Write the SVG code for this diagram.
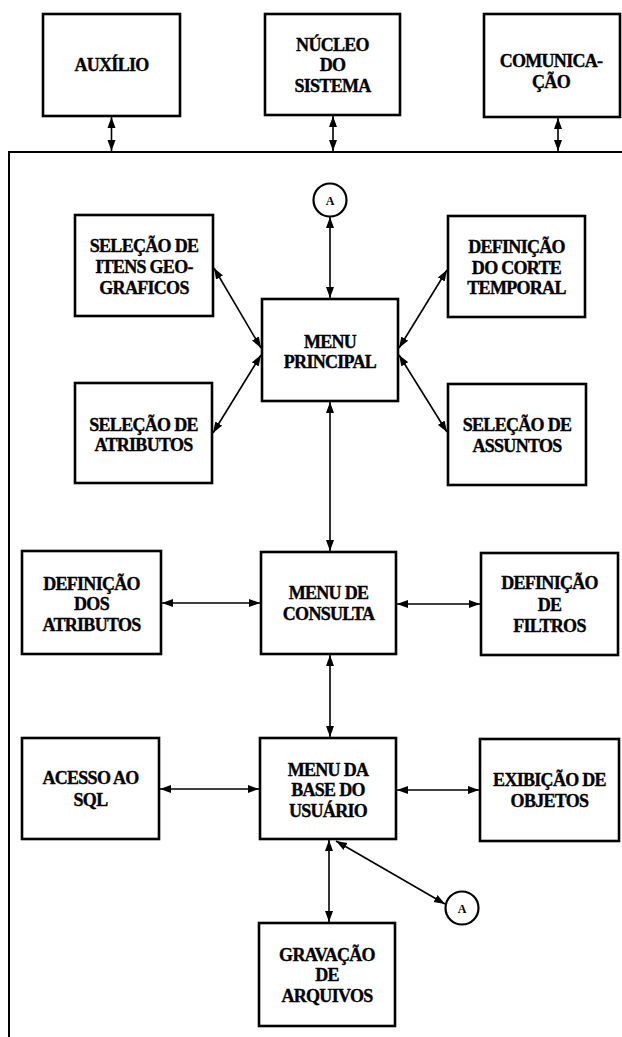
<svg xmlns="http://www.w3.org/2000/svg" width="622" height="1037" viewBox="0 0 622 1037">
  <style>
    .box { fill: #ffffff; stroke: #000000; stroke-width: 2.6; }
    .circ { fill: #ffffff; stroke: #000000; stroke-width: 2.2; }
    text { font-family: 'Liberation Serif', 'DejaVu Serif', serif; font-weight: 700; fill: #000000; text-anchor: middle; }
    .t { font-size: 18px; letter-spacing: -0.7px; stroke: #000000; stroke-width: 0.35; }
    .ts { font-size: 12px; }
    .conn line { stroke: #000000; stroke-width: 1.6; fill: none; marker-start: url(#head); marker-end: url(#head); }
    .frame { stroke: #000000; stroke-width: 2; fill: none; }
  </style>
  <defs>
    <marker id="head" markerUnits="userSpaceOnUse" markerWidth="11" markerHeight="9" refX="11" refY="4.5" orient="auto-start-reverse">
      <path d="M0,0.5 L11,4.5 L0,8.5 z" fill="#000000"/>
    </marker>
  </defs>

  <rect width="622" height="1037" fill="#ffffff"/>

  <!-- system frame: bus line and left border -->
  <path class="frame" d="M622,152 H9 V1037"/>

  <!-- top-level modules -->
  <g id="auxilio">
    <rect class="box" x="43" y="14" width="137" height="102"/>
    <text class="t" x="111.5" y="71">AUXÍLIO</text>
  </g>
  <g id="nucleo">
    <rect class="box" x="265" y="14" width="135" height="101"/>
    <text class="t" x="332.5" y="51">NÚCLEO</text>
    <text class="t" x="332.5" y="71">DO</text>
    <text class="t" x="332.5" y="92">SISTEMA</text>
  </g>
  <g id="comunicacao">
    <rect class="box" x="484" y="14" width="136" height="103"/>
    <text class="t" x="551" y="67">COMUNICA-</text>
    <text class="t" x="551" y="88">ÇÃO</text>
  </g>

  <!-- connector reference A (top) -->
  <g id="ref-a-top">
    <circle class="circ" cx="330" cy="200" r="16.5"/>
    <text class="ts" x="330" y="204.5">A</text>
  </g>

  <!-- main menu cluster -->
  <g id="sel-itens">
    <rect class="box" x="75" y="215" width="138" height="101"/>
    <text class="t" x="144" y="252">SELEÇÃO DE</text>
    <text class="t" x="144" y="273">ITENS GEO-</text>
    <text class="t" x="144" y="294">GRAFICOS</text>
  </g>
  <g id="def-corte">
    <rect class="box" x="448" y="216" width="137" height="101"/>
    <text class="t" x="516.5" y="253">DEFINIÇÃO</text>
    <text class="t" x="516.5" y="274">DO CORTE</text>
    <text class="t" x="516.5" y="294">TEMPORAL</text>
  </g>
  <g id="menu-principal">
    <rect class="box" x="262" y="299" width="136" height="102"/>
    <text class="t" x="330" y="348">MENU</text>
    <text class="t" x="330" y="368">PRINCIPAL</text>
  </g>
  <g id="sel-atributos">
    <rect class="box" x="75" y="383" width="137" height="100"/>
    <text class="t" x="143.5" y="431">SELEÇÃO DE</text>
    <text class="t" x="143.5" y="451">ATRIBUTOS</text>
  </g>
  <g id="sel-assuntos">
    <rect class="box" x="448" y="384" width="138" height="101"/>
    <text class="t" x="517" y="431">SELEÇÃO DE</text>
    <text class="t" x="517" y="452">ASSUNTOS</text>
  </g>

  <!-- query menu row -->
  <g id="def-atributos">
    <rect class="box" x="22" y="551" width="139" height="103"/>
    <text class="t" x="91.5" y="590">DEFINIÇÃO</text>
    <text class="t" x="91.5" y="610">DOS</text>
    <text class="t" x="91.5" y="631">ATRIBUTOS</text>
  </g>
  <g id="menu-consulta">
    <rect class="box" x="261" y="552" width="135" height="102"/>
    <text class="t" x="328.5" y="599">MENU DE</text>
    <text class="t" x="328.5" y="620">CONSULTA</text>
  </g>
  <g id="def-filtros">
    <rect class="box" x="481" y="553" width="137" height="102"/>
    <text class="t" x="549.5" y="589">DEFINIÇÃO</text>
    <text class="t" x="549.5" y="611">DE</text>
    <text class="t" x="549.5" y="632">FILTROS</text>
  </g>

  <!-- user base menu row -->
  <g id="acesso-sql">
    <rect class="box" x="22" y="738" width="137" height="101"/>
    <text class="t" x="90.5" y="784">ACESSO AO</text>
    <text class="t" x="90.5" y="806">SQL</text>
  </g>
  <g id="menu-base">
    <rect class="box" x="260" y="738" width="136" height="101"/>
    <text class="t" x="328" y="776">MENU DA</text>
    <text class="t" x="328" y="796">BASE DO</text>
    <text class="t" x="328" y="817">USUÁRIO</text>
  </g>
  <g id="exibicao">
    <rect class="box" x="480" y="739" width="139" height="102"/>
    <text class="t" x="549.5" y="786">EXIBIÇÃO DE</text>
    <text class="t" x="549.5" y="807">OBJETOS</text>
  </g>

  <!-- connector reference A (bottom) -->
  <g id="ref-a-bottom">
    <circle class="circ" cx="462" cy="908" r="16.5"/>
    <text class="ts" x="462" y="912.5">A</text>
  </g>

  <g id="gravacao">
    <rect class="box" x="259" y="923" width="136" height="103"/>
    <text class="t" x="327" y="961">GRAVAÇÃO</text>
    <text class="t" x="327" y="981">DE</text>
    <text class="t" x="327" y="1002">ARQUIVOS</text>
  </g>

  <!-- connectors (all bidirectional) -->
  <g id="connectors" class="conn">
    <line x1="111.5" y1="117" x2="111.5" y2="151"/>
    <line x1="333" y1="116" x2="333" y2="151"/>
    <line x1="558" y1="118" x2="558" y2="151"/>
    <line x1="330" y1="217" x2="330" y2="298"/>
    <line x1="214" y1="268" x2="261" y2="348"/>
    <line x1="213" y1="433" x2="261" y2="355"/>
    <line x1="447" y1="270" x2="399" y2="348"/>
    <line x1="399" y1="355" x2="447" y2="432"/>
    <line x1="330" y1="402" x2="330" y2="551"/>
    <line x1="162" y1="603" x2="260" y2="603"/>
    <line x1="397" y1="604" x2="480" y2="604"/>
    <line x1="330" y1="655" x2="330" y2="737"/>
    <line x1="160" y1="789" x2="259" y2="789"/>
    <line x1="397" y1="790" x2="479" y2="790"/>
    <line x1="329" y1="840" x2="329" y2="922"/>
    <line x1="336" y1="841" x2="445" y2="904"/>
  </g>
</svg>
